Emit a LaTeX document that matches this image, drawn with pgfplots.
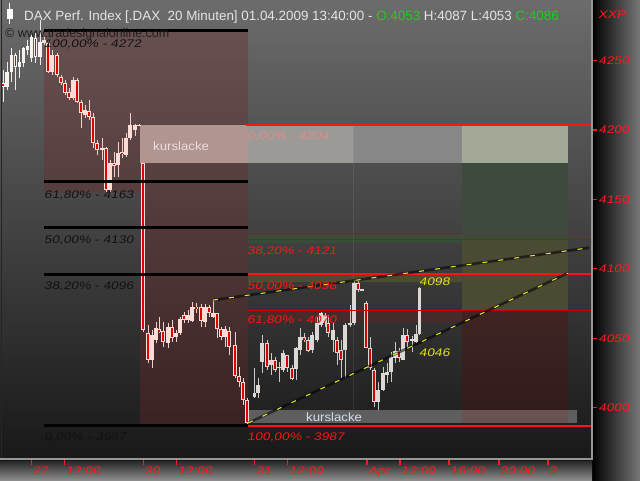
\documentclass[border=0pt]{standalone}
\usepackage{pgfplots}
\pgfplotsset{compat=1.18}
\usepackage{pgfplotstable}
\usepackage{fontspec}
\setmainfont{Liberation Sans}
\newfontfamily\hand[FakeSlant=0.18,FakeStretch=1.25]{Liberation Sans}
\newfontfamily\handup[FakeStretch=1.1]{Liberation Sans}

\definecolor{bgtop}{RGB}{108,108,108}
\definecolor{bgbot}{RGB}{24,24,24}
\definecolor{tickred}{RGB}{255,25,25}
\definecolor{fibred}{RGB}{255,20,20}
\definecolor{fibdred}{RGB}{200,0,0}
\definecolor{rose}{RGB}{112,42,42}
\definecolor{ttlgray}{RGB}{228,228,228}
\definecolor{ttlgreen}{RGB}{30,205,30}
\definecolor{tyel}{RGB}{225,225,30}
\definecolor{bordergray}{RGB}{150,150,150}
\definecolor{stripgray}{RGB}{120,120,120}
\definecolor{wickA}{RGB}{238,234,230}
\definecolor{bodyA}{RGB}{246,242,238}
\definecolor{wickB}{RGB}{242,207,200}
\definecolor{bodyB}{RGB}{252,220,212}
\definecolor{wickC}{RGB}{204,200,196}
\definecolor{bodyC}{RGB}{220,216,212}
\definecolor{redA}{RGB}{225,0,0}
\definecolor{redC}{RGB}{210,0,0}

% day 26/27 candles (x in chart pixels, prices)
\pgfplotstableread{
x o h l c
3 4233.9 4243.3 4220.2 4231.0
7 4231.0 4249.0 4228.9 4241.8
11.5 4241.8 4259.1 4234.6 4254.1
15.5 4254.1 4255.5 4228.9 4245.4
19.5 4245.4 4257.7 4237.5 4249.0
23.5 4248.3 4259.8 4245.4 4259.1
27.5 4257.7 4264.9 4254.1 4260.6
31.5 4251.9 4268.5 4249.0 4267.0
35.5 4266.3 4269.9 4248.3 4252.6
40 4252.6 4279.3 4246.9 4263.4
}\tblA

\pgfplotstableread{
x o h l c
44 4262.7 4267.0 4261.3 4264.9
48 4262.7 4264.9 4241.1 4241.8
52 4241.8 4257.7 4239.7 4254.1
57 4254.1 4255.5 4238.2 4239.7
61 4238.2 4239.7 4232.5 4233.9
65 4233.9 4236.1 4225.3 4226.7
69 4227.4 4230.3 4221.6 4223.1
73 4223.1 4238.2 4221.6 4236.1
77 4236.1 4237.5 4219.5 4220.2
81 4220.2 4221.6 4201.5 4212.3
85 4210.8 4218.0 4208.7 4214.4
89 4213.7 4221.6 4207.2 4209.4
93 4209.4 4212.3 4187.1 4190.7
97 4190.7 4192.8 4182.0 4185.6
102 4185.6 4194.3 4178.4 4187.1
106 4187.1 4187.8 4155.4 4156.8
110 4156.8 4178.4 4155.4 4176.3
114 4176.3 4184.2 4166.2 4174.1
118 4174.8 4191.4 4166.2 4183.5
122 4184.2 4194.3 4179.9 4182.7
126 4182.0 4197.9 4180.6 4194.3
130 4194.3 4212.3 4192.8 4203.6
135 4200.0 4204.4 4196.0 4203.6
139 4203.2 4204.4 4202.9 4203.8
143 4176.3 4176.3 4054.5 4055.9
148 4053.8 4059.5 4032.2 4034.3
152 4034.3 4055.9 4028.6 4052.3
156 4048.7 4061.7 4046.6 4057.4
159 4056.7 4065.3 4053.8 4054.5
163 4055.2 4061.7 4043.7 4047.3
168 4046.6 4061.0 4043.0 4058.1
172 4058.1 4063.1 4047.3 4050.2
176 4050.9 4055.9 4047.3 4053.8
180 4053.8 4065.3 4052.3 4063.9
184 4066.7 4068.9 4061.0 4063.1
188 4063.1 4070.3 4061.0 4066.7
192 4062.4 4076.1 4061.7 4072.5
196 4072.5 4075.4 4068.2 4071.8
201 4072.5 4074.7 4058.1 4062.4
205 4061.7 4074.7 4058.1 4072.5
209 4072.5 4074.0 4065.3 4068.2
213 4065.3 4077.5 4064.6 4068.2
217 4068.2 4068.2 4050.2 4056.7
221 4056.7 4058.1 4048.7 4050.9
225 4050.9 4058.8 4043.7 4056.7
229 4055.2 4058.1 4037.9 4043.7
235 4045.1 4054.5 4021.4 4022.8
239 4022.8 4029.3 4014.9 4018.5
243 4018.5 4021.4 4001.9 4005.5
247 4005.5 4006.9 3988.2 3988.9
}\tblB

\pgfplotstableread{
x o h l c
254.5 4007.7 4028.6 4006.9 4010.5
258 4010.5 4021.4 4006.9 4016.3
262 4032.9 4052.3 4025.0 4046.6
267 4046.6 4048.7 4027.1 4029.3
271 4030.7 4039.4 4023.5 4034.3
275 4034.3 4036.5 4025.7 4027.1
279 4028.6 4032.9 4018.5 4029.3
283 4027.1 4041.5 4025.7 4039.4
287 4037.9 4037.9 4025.7 4028.6
292 4028.6 4030.7 4019.9 4020.6
296 4027.8 4043.7 4019.9 4043.0
300 4041.5 4057.4 4037.9 4050.9
304 4050.9 4053.8 4047.3 4048.7
308 4048.7 4050.9 4040.1 4040.8
312 4041.5 4054.5 4039.4 4052.3
317 4048.7 4065.3 4047.3 4061.0
321 4059.5 4068.9 4058.1 4068.2
325 4061.0 4068.2 4058.1 4066.7
328 4061.0 4066.7 4050.9 4053.8
333 4048.7 4061.0 4040.1 4055.9
337 4048.7 4050.9 4030.7 4039.4
341 4041.5 4048.7 4021.4 4034.3
345 4041.5 4061.0 4021.4 4059.5
350 4059.5 4074.0 4058.1 4061.0
354 4061.0 4092.0 4059.5 4089.8
358 4089.8 4091.2 4083.3 4084.8
362 4084.8 4085.5 4084.0 4084.8
366 4075.4 4076.8 4043.0 4043.0
370 4043.0 4050.9 4027.1 4028.6
374 4027.1 4028.6 4000.5 4004.1
378 4004.1 4018.5 3998.3 4012.7
383 4012.7 4029.3 4012.0 4025.0
387 4023.5 4032.2 4017.8 4025.7
391 4025.7 4040.1 4018.5 4036.5
395 4035.8 4047.3 4032.2 4040.8
399 4040.8 4043.0 4032.9 4035.8
403 4034.3 4057.4 4034.3 4052.3
407 4052.3 4056.7 4043.7 4047.3
412 4048.7 4051.6 4040.1 4048.7
416 4047.3 4059.5 4046.6 4053.1
419.5 4053.1 4086.9 4052.3 4086.2
}\tblC

\pgfplotsset{hidemarks/.style={only marks, mark=*, mark size=0.01pt, mark options={draw opacity=0, fill opacity=0}}}

% #1 table, #2 wick colour, #3 body colour, #4 red core
\newcommand{\candles}[4]{%
  \addplot[hidemarks, forget plot,
    error bars/.cd, y dir=both, y explicit, error mark=none,
    error bar style={line width=1pt, draw=#2}]
    table[x=x, y expr={(\thisrow{h}+\thisrow{l})/2}, y error expr={(\thisrow{h}-\thisrow{l})/2}] {#1};
  \addplot[hidemarks, forget plot,
    restrict expr to domain={\thisrow{c}-\thisrow{o}}{0:1000},
    error bars/.cd, y dir=both, y explicit, error mark=none,
    error bar style={line width=3.4pt, draw=#3}]
    table[x=x, y expr={(\thisrow{o}+\thisrow{c})/2}, y error expr={max(abs(\thisrow{c}-\thisrow{o})/2,0.45)}] {#1};
  \addplot[hidemarks, forget plot,
    restrict expr to domain={\thisrow{o}-\thisrow{c}}{0.0001:1000},
    error bars/.cd, y dir=both, y explicit, error mark=none,
    error bar style={line width=3.4pt, draw=#3}]
    table[x=x, y expr={(\thisrow{o}+\thisrow{c})/2}, y error expr={max(abs(\thisrow{c}-\thisrow{o})/2,0.45)}] {#1};
  \addplot[hidemarks, forget plot,
    restrict expr to domain={\thisrow{o}-\thisrow{c}}{0.0001:1000},
    error bars/.cd, y dir=both, y explicit, error mark=none,
    error bar style={line width=1.5pt, draw=#4}]
    table[x=x, y expr={(\thisrow{o}+\thisrow{c})/2}, y error expr={max(abs(\thisrow{c}-\thisrow{o})/2-0.6,0.2)}] {#1};
}

\begin{document}
\begin{tikzpicture}[x=1pt,y=1pt]
\shade[left color=black, right color=stripgray] (592,0) rectangle (640,480);
\shade[top color={rgb,255:red,34;green,34;blue,34}, bottom color={rgb,255:red,140;green,140;blue,140}] (0,0) rectangle (592,20);

\begin{axis}[
  at={(0pt,20pt)}, anchor=south west, scale only axis,
  width=592pt, height=460pt,
  xmin=0, xmax=592, ymin=3962.3, ymax=4293.7,
  axis line style={draw=none},
  axis background/.style={top color=bgtop, bottom color=bgbot},
  tick align=outside, major tick length=5pt,
  xtick pos=left, ytick pos=right, yticklabel pos=right,
  xtick={31.5,64.6,143.5,176.6,254.7,287.8,367,400,449,499,548},
  xticklabels={27,12:00,30,12:00,31,12:00,Apr,12:00,16:00,20:00,2},
  ytick={4000,4050,4100,4150,4200,4250},
  yticklabels={4000,4050,4100,4150,4200,4250},
  tick style={color=tickred, line width=1.2pt},
  xticklabel style={font=\hand\fontsize{11}{12}\selectfont, text=tickred, anchor=north west, inner sep=0pt, xshift=1pt, yshift=-1.5pt},
  yticklabel style={font=\hand\fontsize{11}{12}\selectfont, text=tickred, anchor=west, inner sep=0pt, xshift=1.5pt},
  minor tick num=0,
]
% first Fibonacci area
\fill[rose, fill opacity=0.36] (axis cs:44,4272) -- (axis cs:248,4272) -- (axis cs:248,3987) -- (axis cs:140,3987) -- (axis cs:140,4155) -- (axis cs:44,4155) -- cycle;
% price gap band (kurslacke)
\fill[fill={rgb,255:red,176;green,149;blue,144}] (axis cs:140,4176.3) rectangle (axis cs:248,4203.6);
\fill[fill={rgb,255:red,156;green,154;blue,150}] (axis cs:248,4176.3) rectangle (axis cs:353,4203.6);
\fill[fill={rgb,255:red,136;green,136;blue,136}] (axis cs:353,4176.3) rectangle (axis cs:462,4203.6);
\fill[fill={rgb,255:red,162;green,170;blue,151}] (axis cs:462,4176.3) rectangle (axis cs:568,4203.6);
% coloured zone column
\fill[fill={rgb,255:red,61;green,75;blue,63}] (axis cs:462,4120.8) rectangle (axis cs:568,4176.3);
\fill[fill={rgb,255:red,75;green,74;blue,51}] (axis cs:462,4070.3) rectangle (axis cs:568,4120.8);
\shade[top color={rgb,255:red,64;green,36;blue,36}, bottom color={rgb,255:red,50;green,27;blue,27}] (axis cs:462,3998.3) rectangle (axis cs:568,4070.3);
% thin zone bands
\fill[fill={rgb,255:red,40;green,110;blue,40}, fill opacity=0.3] (axis cs:248,4118.6) rectangle (axis cs:462,4124.4);
\fill[fill={rgb,255:red,120;green,120;blue,30}, fill opacity=0.3] (axis cs:248,4090.5) rectangle (axis cs:462,4096.3);
\fill[fill={rgb,255:red,120;green,25;blue,25}, fill opacity=0.3] (axis cs:248,4061.7) rectangle (axis cs:462,4071.1);
% lower gap band
\fill[fill={rgb,255:red,94;green,94;blue,94}] (axis cs:248,3988.9) rectangle (axis cs:577,3998.3);
\fill[fill={rgb,255:red,107;green,82;blue,82}] (axis cs:462,3988.9) rectangle (axis cs:568,3998.3);
\draw[white, opacity=0.08, line width=1pt] (axis cs:353,4203.6) -- (axis cs:353,3998.3);

% candles
\candles{\tblA}{wickA}{bodyA}{redA}
\candles{\tblB}{wickB}{bodyB}{redA}
\candles{\tblC}{wickC}{bodyC}{redC}

% first Fibonacci levels (black)
\addplot[black, line width=3pt] coordinates {(44,4272) (248,4272)};
\addplot[black, line width=3pt] coordinates {(44,4163) (248,4163)};
\addplot[black, line width=3pt] coordinates {(44,4130) (248,4130)};
\addplot[black, line width=3pt] coordinates {(44,4096) (248,4096)};
\addplot[black, line width=3pt] coordinates {(44,3987) (248,3987)};
% second Fibonacci levels (red)
\addplot[fibred, line width=2pt] coordinates {(246,4204) (592,4204)};
\addplot[fibdred, line width=1pt] coordinates {(248,4121) (592,4121)};
\addplot[fibred, line width=2pt] coordinates {(248,4096) (592,4096)};
\addplot[fibdred, line width=1pt] coordinates {(248,4070) (592,4070)};
\addplot[fibred, line width=2pt] coordinates {(248,3987) (592,3987)};
% trend lines
\addplot[black, opacity=0.55, line width=2.6pt] coordinates {(213,4077.5) (589,4115.2)};
\addplot[tyel, line width=1.1pt, dash pattern=on 5pt off 11pt] coordinates {(213,4077.5) (589,4115.2)};
\addplot[black, opacity=0.55, line width=2.6pt] coordinates {(248,3988.9) (568,4097.0)};
\addplot[tyel, line width=1.1pt, dash pattern=on 5pt off 11pt] coordinates {(248,3988.9) (568,4097.0)};

% labels
\begin{scope}[every node/.style={anchor=west, inner sep=0pt, font=\hand\fontsize{11}{12}\selectfont}]
\node[text={rgb,255:red,18;green,18;blue,18}] at (axis cs:44,4261.5) {100,00\% - 4272};
\node[text={rgb,255:red,18;green,18;blue,18}] at (axis cs:44,4153.2) {61,80\% - 4163};
\node[text={rgb,255:red,18;green,18;blue,18}] at (axis cs:44,4120.8) {50,00\% - 4130};
\node[text={rgb,255:red,18;green,18;blue,18}] at (axis cs:44,4087.6) {38,20\% - 4096};
\node[text={rgb,255:red,18;green,18;blue,18}] at (axis cs:44,3978.8) {0,00\% - 3987};
\node[text={rgb,255:red,222;green,140;blue,140}] at (axis cs:247,4195.7) {0,00\% - 4204};
\node[text=fibred] at (axis cs:247,4112.9) {38,20\% - 4121};
\node[text=fibred] at (axis cs:247,4087.6) {50,00\% - 4096};
\node[text=fibred] at (axis cs:247,4063.1) {61,80\% - 4070};
\node[text=fibred] at (axis cs:247,3978.8) {100,00\% - 3987};
\node[text=tyel] at (axis cs:419,4090.4) {4098};
\node[text=tyel] at (axis cs:419,4039.4) {4046};
\node[font=\handup\fontsize{12}{13}\selectfont, text={rgb,255:red,236;green,220;blue,220}] at (axis cs:153,4188.5) {kurslacke};
\node[font=\handup\fontsize{12}{13}\selectfont, text={rgb,255:red,210;green,224;blue,240}] at (axis cs:306,3993.3) {kurslacke};
\end{scope}
\end{axis}

% frame
\fill[bordergray] (0,20) rectangle (592,22.5);
\fill[bordergray] (591,20) rectangle (592.6,480);
\fill[black!85] (1.2,22.5) rectangle (2.4,480);
% title block
\fill[white] (6.5,461) rectangle (12.5,471);
\draw[white, line width=1pt] (9.5,456) -- (9.5,477);
\node[anchor=base west, inner sep=0pt, font=\fontsize{13.4}{15}\selectfont, text=ttlgray] at (24,459)
  {DAX Perf. Index [.DAX\ \ 20 Minuten] 01.04.2009 13:40:00 - \textcolor{ttlgreen}{O:4053} H:4087 L:4053 \textcolor{ttlgreen}{C:4086}};
\node[anchor=base west, inner sep=0pt, font=\fontsize{12.5}{14}\selectfont, text={rgb,255:red,30;green,30;blue,30}] at (5,442) {\char"00A9\ www.tradesignalonline.com};
\node[anchor=base west, inner sep=0pt, font=\hand\fontsize{11}{12}\selectfont, text=tickred] at (598,461) {XXP};
\pgfresetboundingbox
\useasboundingbox (0,0) rectangle (640,480);
\end{tikzpicture}
\end{document}
